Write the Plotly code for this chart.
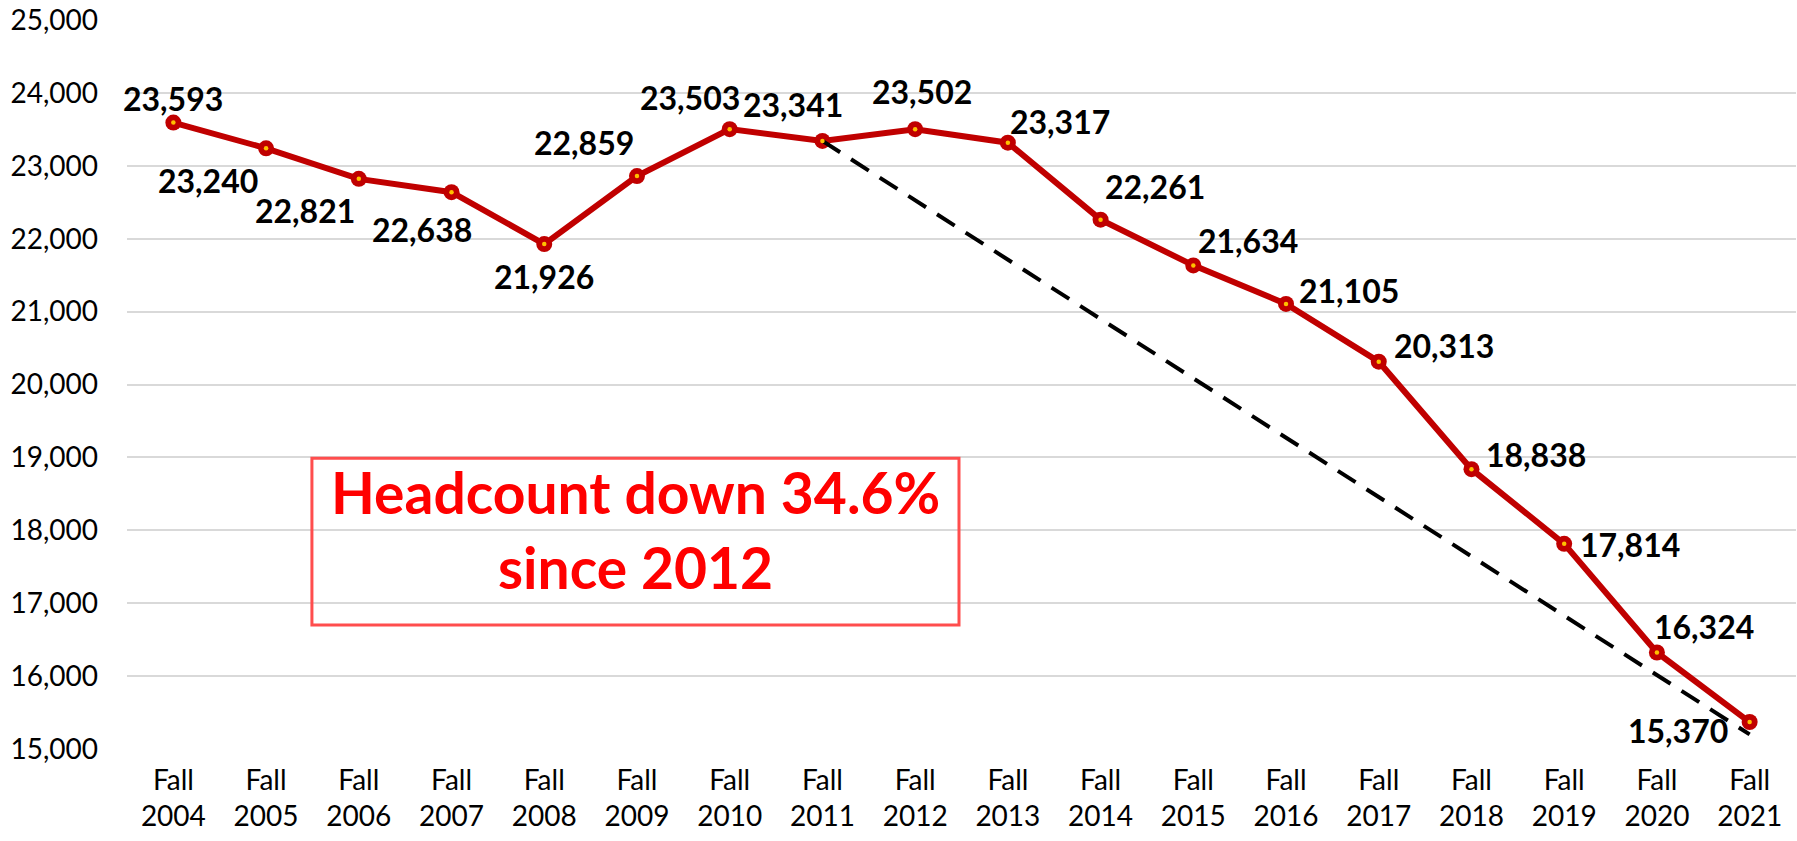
import plotly.graph_objects as go

years = [str(y) for y in range(2004, 2022)]
categories = ["Fall<br>" + y for y in years]
headcount = [23593, 23240, 22821, 22638, 21926, 22859, 23503, 23341, 23502,
             23317, 22261, 21634, 21105, 20313, 18838, 17814, 16324, 15370]
trend_x = ["Fall<br>2011", "Fall<br>2021"]
trend_y = [23341, 15200]
y_ticks = list(range(15000, 25001, 1000))

# label offsets (pixels) relative to each point
label_dx = [0, -58, -54, -30, 0, -53, -40, -29, 7, 52, 54, 55, 63, 65, 65, 66, 47, -72]
label_dy = [24, -32, -32, -37, -32, 34, 32, 36, 38, 21, 33, 25, 13, 16, 15, -1, 26, -8]

FONT = "Lato"
RED = "#C00000"

fig = go.Figure()
fig.add_trace(go.Scatter(
    x=categories, y=headcount, mode="lines+markers",
    line=dict(color=RED, width=6),
    marker=dict(size=16, color=RED),
    showlegend=False))
fig.add_trace(go.Scatter(
    x=trend_x, y=trend_y, mode="lines",
    line=dict(color="black", width=4, dash="21px,13px"),
    hoverinfo="skip", showlegend=False))
fig.add_trace(go.Scatter(
    x=categories, y=headcount, mode="markers",
    marker=dict(size=4.5, color="#FFC000"),
    hoverinfo="skip", showlegend=False))

annotations = []
for c, v, dx, dy in zip(categories, headcount, label_dx, label_dy):
    annotations.append(dict(
        x=c, y=v, xref="x", yref="y", text=f"<b>{v:,}</b>", showarrow=False,
        xshift=dx, yshift=dy, xanchor="center", yanchor="middle",
        font=dict(family=FONT, size=32, color="black")))

annotations.append(dict(
    x=0.3047, y=0.352, xref="paper", yref="paper",
    text="<b>Headcount down 34.6%</b>", showarrow=False,
    xanchor="center", yanchor="middle",
    font=dict(family=FONT, size=57, color="#FF0000")))
annotations.append(dict(
    x=0.3047, y=0.249, xref="paper", yref="paper",
    text="<b>since 2012</b>", showarrow=False,
    xanchor="center", yanchor="middle",
    font=dict(family=FONT, size=57, color="#FF0000")))

fig.update_layout(
    width=1797, height=841,
    margin=dict(l=127, r=1, t=20, b=92),
    paper_bgcolor="white", plot_bgcolor="white",
    font=dict(family=FONT, size=28, color="black"),
    annotations=annotations,
    shapes=[dict(type="rect", xref="paper", yref="paper",
                 x0=0.1108, x1=0.4985, y0=0.170, y1=0.399,
                 line=dict(color="#FF4D4D", width=3), fillcolor="rgba(0,0,0,0)")],
    xaxis=dict(type="category", categoryorder="array", categoryarray=categories,
               range=[-0.5, len(categories) - 0.5], autorange=False,
               showgrid=False, showline=False, zeroline=False,
               ticks="", tickfont=dict(family=FONT, size=28, color="black"),
               ticklabelstandoff=12),
    yaxis=dict(range=[15000, 25000], tickvals=y_ticks, tickformat=",",
               showgrid=True, gridcolor="#D9D9D9", gridwidth=1.5,
               zeroline=False, showline=False, ticks="",
               tickfont=dict(family=FONT, size=28, color="black"),
               ticklabelstandoff=28),
)

fig.write_html("out.html",
               config={"displayModeBar": False},
               post_script="document.body.style.margin='0';document.body.style.overflow='hidden';")
